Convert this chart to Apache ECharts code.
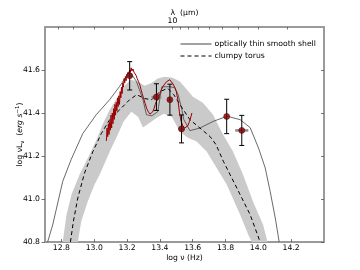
<!DOCTYPE html>
<html><head><meta charset="utf-8">
<script src="https://cdn.jsdelivr.net/npm/echarts@6/dist/echarts.min.js"></script>
<style>html,body{margin:0;padding:0;background:#fff}#c{width:360px;height:270px}</style>
</head><body><div id="c"></div>
<script>
// ---- data (log nu [Hz], log nuLnu [erg/s]) ----
const xTickLabels = [12.8, 13.0, 13.2, 13.4, 13.6, 13.8, 14.0, 14.2];
const yTickLabels = [40.8, 41.0, 41.2, 41.4, 41.6];
const lambdaTicks = [2, 3, 4, 5, 6, 7, 8, 9, 10, 20, 30, 40, 50, 60];
const lambdaLabels = [10];

const shellX = [12.716,12.747,12.808,12.859,12.930,13.012,13.094,13.155,13.206,13.222,13.257,13.297,13.318,13.351,13.387,13.412,13.461,13.491,13.511,13.532,13.546,13.583,13.644,13.725,13.809,13.889,13.950,14.001,14.042,14.072,14.103,14.127];
const shellY = [40.800,40.880,41.082,41.183,41.304,41.392,41.462,41.524,41.583,41.587,41.547,41.462,41.392,41.387,41.406,41.522,41.522,41.518,41.485,41.423,41.369,41.318,41.330,41.361,41.385,41.369,41.332,41.237,41.144,41.035,40.912,40.800];

const torusX = [12.855,12.873,12.900,12.941,12.992,13.043,13.094,13.155,13.216,13.259,13.308,13.351,13.399,13.448,13.485,13.522,13.583,13.644,13.705,13.742,13.787,13.869,13.950,14.011];
const torusY = [40.800,40.896,41.005,41.121,41.221,41.304,41.369,41.415,41.462,41.485,41.467,41.462,41.499,41.515,41.485,41.439,41.369,41.330,41.291,41.253,41.175,41.051,40.927,40.800];

const bandUpX = [12.808,12.831,12.861,12.910,12.971,13.014,13.051,13.094,13.143,13.185,13.222,13.265,13.308,13.351,13.387,13.430,13.479,13.522,13.565,13.601,13.662,13.724,13.779,13.846,13.907,13.968,14.029,14.056];
const bandUpY = [40.800,40.927,41.020,41.113,41.206,41.276,41.346,41.415,41.476,41.527,41.555,41.546,41.527,41.541,41.560,41.569,41.564,41.546,41.508,41.476,41.448,41.392,41.308,41.220,41.113,40.987,40.880,40.800];
const bandLoX = [12.900,12.921,12.961,13.002,13.033,13.094,13.143,13.179,13.226,13.267,13.297,13.338,13.381,13.424,13.473,13.522,13.571,13.624,13.685,13.746,13.807,13.889,13.940,13.960];
const bandLoY = [40.800,40.896,40.989,41.067,41.113,41.220,41.299,41.360,41.406,41.383,41.332,41.355,41.378,41.397,41.383,41.313,41.285,41.268,41.221,41.144,41.067,40.927,40.831,40.800];

const specX = [13.074,13.078,13.082,13.086,13.090,13.094,13.098,13.102,13.106,13.110,13.114,13.118,13.122,13.126,13.130,13.134,13.138,13.142,13.146,13.150,13.154,13.158,13.162,13.166,13.170,13.174,13.178,13.182,13.186,13.190,13.194,13.198,13.202,13.206,13.210,13.215,13.220,13.225,13.230,13.236,13.242,13.248,13.255,13.262,13.270,13.278,13.285,13.292,13.300,13.310,13.320,13.330,13.340,13.348,13.356,13.364,13.372,13.380,13.390,13.400,13.410,13.420,13.430,13.440,13.450,13.460,13.470,13.480,13.490,13.500,13.510,13.520,13.530,13.540,13.550,13.560,13.570,13.580,13.590,13.595];
const specY = [41.27,41.33,41.29,41.35,41.30,41.36,41.32,41.39,41.33,41.40,41.35,41.42,41.37,41.44,41.39,41.45,41.41,41.47,41.43,41.48,41.44,41.50,41.47,41.52,41.49,41.54,41.52,41.56,41.54,41.57,41.55,41.58,41.57,41.59,41.58,41.60,41.59,41.61,41.595,41.605,41.59,41.585,41.575,41.56,41.545,41.53,41.51,41.49,41.47,41.445,41.42,41.405,41.395,41.39,41.405,41.42,41.44,41.455,41.47,41.49,41.51,41.525,41.535,41.545,41.55,41.555,41.548,41.535,41.52,41.50,41.46,41.40,41.36,41.34,41.33,41.325,41.34,41.36,41.385,41.40];

const ptX    = [13.216, 13.379, 13.461, 13.532, 13.807, 13.899];
const ptY    = [41.573, 41.474, 41.462, 41.326, 41.384, 41.319];
const ptYErr = [0.066, 0.062, 0.072, 0.065, 0.080, 0.070];
const ptXErr = [0.020, 0.030, 0.010, 0.020, 0.000, 0.040];

// ---- build ----
const LOGC = Math.log10(2.998e14); // log10(c in micron/s)
const XMIN = 12.70, XMAX = 14.40, YMIN = 40.8, YMAX = 41.8;
const FONT = 'DejaVu Sans';
const pair = (xs, ys) => xs.map((x, i) => [x, ys[i]]);
const lamPos = lambdaTicks.map(l => LOGC - Math.log10(l)).filter(v => v >= XMIN && v <= XMAX);
const lamLabPos = lambdaLabels.map(l => LOGC - Math.log10(l));
const frame = {show: true, lineStyle: {color: '#9a9a9a', width: 2}};

const chart = echarts.init(document.getElementById('c'), null, {renderer: 'canvas'});
chart.setOption({
  animation: false,
  backgroundColor: '#fff',
  grid: {left: 45, right: 36, top: 27, bottom: 28, containLabel: false, outerBoundsMode: 'none'},
  legend: {
    orient: 'vertical', left: 180, top: 40, padding: 0, itemWidth: 31, itemHeight: 8, itemGap: 4,
    data: ['optically thin smooth shell', 'clumpy torus'],
    itemStyle: {color: 'rgba(0,0,0,0)', borderWidth: 0, opacity: 0},
    lineStyle: {width: 1},
    textStyle: {fontFamily: FONT, fontSize: 7.7, color: '#000', padding: [0, 0, 0, -2]}
  },
  xAxis: [{
    type: 'value', min: XMIN, max: XMAX, position: 'bottom',
    name: 'log ν (Hz)', nameLocation: 'middle', nameGap: 12, nameMoveOverlap: false,
    nameTextStyle: {fontFamily: FONT, fontSize: 7.7, color: '#000'},
    axisLine: frame,
    axisTick: {show: true, inside: true, length: 3, customValues: xTickLabels, lineStyle: {color: '#555', width: 0.8}},
    axisLabel: {customValues: xTickLabels, formatter: v => v.toFixed(1), fontFamily: FONT, fontSize: 7.7, color: '#000', margin: 2},
    splitLine: {show: false}
  }, {
    type: 'value', min: XMIN, max: XMAX, position: 'top',
    name: 'λ  (μm)', nameLocation: 'middle', nameGap: 10, nameMoveOverlap: false,
    nameTextStyle: {fontFamily: FONT, fontSize: 7.7, color: '#000'},
    axisLine: frame,
    axisTick: {show: true, inside: true, length: 2.5, customValues: lamPos, lineStyle: {color: '#555', width: 0.8}},
    axisLabel: {customValues: lamLabPos, formatter: () => String(lambdaLabels[0]), fontFamily: FONT, fontSize: 7.7, color: '#000', margin: 2},
    splitLine: {show: false}
  }],
  yAxis: [{
    type: 'value', min: YMIN, max: YMAX, position: 'left',
    name: 'log νL{s|ν}  ({i|erg s}{p|−1})', nameLocation: 'middle', nameGap: 19, nameMoveOverlap: false,
    nameTextStyle: {fontFamily: FONT, fontSize: 7.7, color: '#000',
      rich: {s: {fontSize: 5.5, fontFamily: FONT, padding: [4, 0, 0, 0]}, p: {fontSize: 5.5, fontFamily: FONT, padding: [0, 0, 5, 0]}, i: {fontSize: 7.7, fontStyle: 'italic', fontFamily: FONT}}},
    axisLine: frame,
    axisTick: {show: true, inside: false, length: 3.5, customValues: yTickLabels, lineStyle: {color: '#555', width: 0.8}},
    axisLabel: {customValues: yTickLabels, formatter: v => v.toFixed(1), fontFamily: FONT, fontSize: 7.7, color: '#000', margin: 5},
    splitLine: {show: false}
  }, {
    type: 'value', min: YMIN, max: YMAX, position: 'right',
    axisLine: frame,
    axisTick: {show: true, inside: true, length: 3, customValues: yTickLabels, lineStyle: {color: '#555', width: 0.8}},
    axisLabel: {show: false},
    splitLine: {show: false}
  }],
  series: [
    {
      type: 'custom', name: 'band', xAxisIndex: 0, yAxisIndex: 0, z: 1, silent: true,
      data: [[bandUpX[0], bandUpY[0]]],
      renderItem: (params, api) => {
        const pts = pair(bandUpX, bandUpY).concat(pair(bandLoX, bandLoY).reverse()).map(p => api.coord(p));
        return {type: 'polygon', shape: {points: pts}, style: {fill: '#cacaca', stroke: null}};
      }
    },
    {
      type: 'line', name: 'optically thin smooth shell', data: pair(shellX, shellY), z: 2,
      symbol: 'none', color: '#000', lineStyle: {color: '#444', width: 0.8}
    },
    {
      type: 'line', name: 'clumpy torus', data: pair(torusX, torusY), z: 3,
      symbol: 'none', color: '#000', lineStyle: {color: '#000', width: 1, type: [4, 3]}
    },
    {
      type: 'line', name: 'spectrum', data: pair(specX, specY), z: 4,
      symbol: 'none', color: '#990000', lineStyle: {color: '#990000', width: 1}
    },
    {
      type: 'custom', name: 'errors', z: 5, silent: true,
      data: ptX.map((x, i) => [x, ptY[i], ptXErr[i], ptYErr[i]]),
      renderItem: (params, api) => {
        const x = api.value(0), y = api.value(1), dx = api.value(2), dy = api.value(3);
        const top = api.coord([x, y + dy]), bot = api.coord([x, y - dy]);
        const l = api.coord([x - dx, y]), r = api.coord([x + dx, y]);
        const children = [];
        if (dx > 0) children.push({type: 'line', shape: {x1: l[0], y1: l[1], x2: r[0], y2: r[1]}, style: {stroke: '#8a8a8a', lineWidth: 2.5}});
        children.push({type: 'line', shape: {x1: top[0], y1: top[1], x2: bot[0], y2: bot[1]}, style: {stroke: '#000', lineWidth: 1}});
        children.push({type: 'line', shape: {x1: top[0] - 2.5, y1: top[1], x2: top[0] + 2.5, y2: top[1]}, style: {stroke: '#000', lineWidth: 1}});
        children.push({type: 'line', shape: {x1: bot[0] - 2.5, y1: bot[1], x2: bot[0] + 2.5, y2: bot[1]}, style: {stroke: '#000', lineWidth: 1}});
        return {type: 'group', children};
      }
    },
    {
      type: 'scatter', name: 'points', z: 6, data: pair(ptX, ptY),
      symbol: 'circle', symbolSize: 6,
      itemStyle: {color: '#8b0000', borderColor: '#3a0000', borderWidth: 0.6}
    }
  ]
});
</script>
</body></html>
